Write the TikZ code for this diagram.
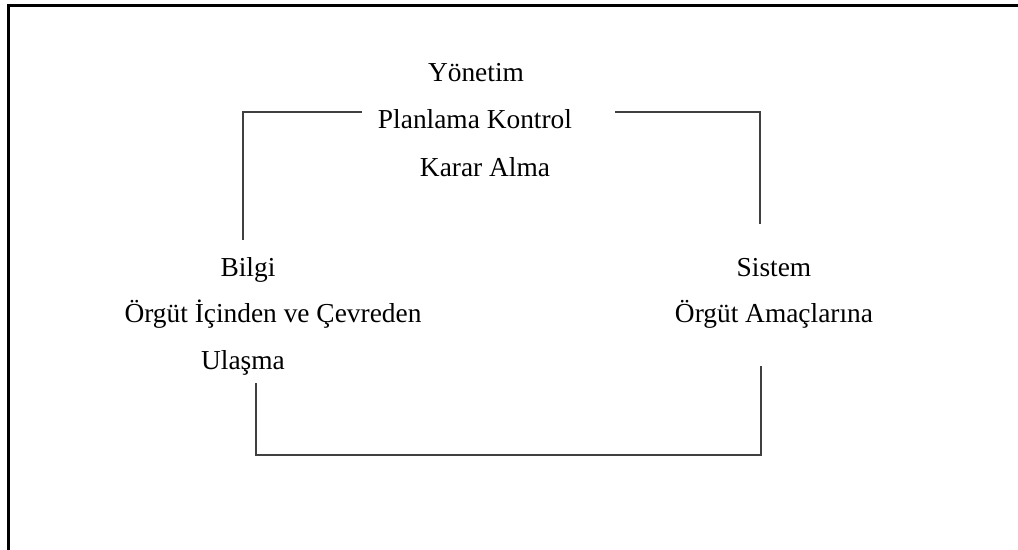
\documentclass[tikz,border=0pt]{standalone}
\usepackage{fontspec}
\setmainfont{Liberation Serif}
\begin{document}
\begin{tikzpicture}[x=1bp,y=-1bp,
  lbl/.style={anchor=base,inner sep=0pt,font=\fontsize{27.5}{33}\selectfont},
  frameline/.style={line width=3bp,black},
  link/.style={line width=1.4bp,black!75}]
\useasboundingbox (0,0) rectangle (1018,550);
% frame
\coordinate (f1) at (8,550);
\coordinate (f2) at (8,5.5);
\coordinate (f3) at (1018,5.5);
\draw[frameline] (f1) -- (f2) -- (f3);
% texts
\node[lbl] (yon) at (476,82) {Yönetim};
\node[lbl] (plan) at (475,129) {Planlama Kontrol};
\node[lbl] (karar) at (485,177) {Karar Alma};
\node[lbl] (bilgi) at (248,277) {Bilgi};
\node[lbl] (orgut1) at (273,323) {Örgüt İçinden ve Çevreden};
\node[lbl] (ulasma) at (243,370) {Ulaşma};
\node[lbl] (sistem) at (774,277) {Sistem};
\node[lbl] (orgut2) at (774,323) {Örgüt Amaçlarına};
% top bracket
\coordinate (a1) at (243,240);
\coordinate (a2) at (243,112);
\coordinate (a3) at (362,112);
\coordinate (b1) at (615,112);
\coordinate (b2) at (760,112);
\coordinate (b3) at (760,224);
\draw[link] (a1) -- (a2) -- (a3);
\draw[link] (b1) -- (b2) -- (b3);
% bottom bracket
\coordinate (c1) at (256,383);
\coordinate (c2) at (256,455);
\coordinate (c3) at (761,455);
\coordinate (c4) at (761,366);
\draw[link] (c1) -- (c2) -- (c3) -- (c4);
\end{tikzpicture}
\end{document}
